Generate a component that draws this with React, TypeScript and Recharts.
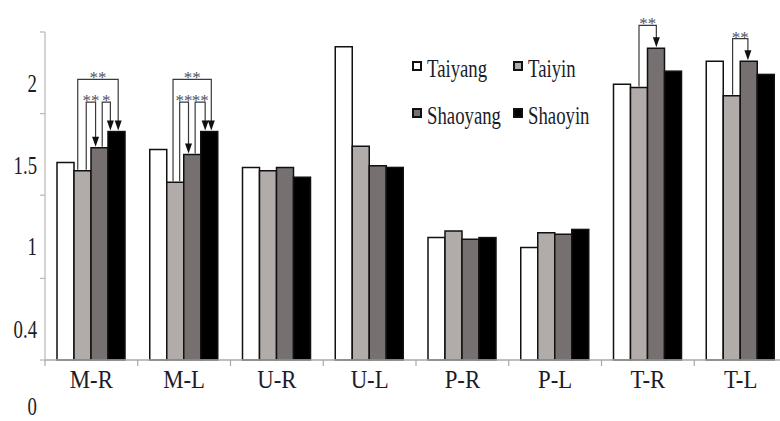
import React from "react";
import { BarChart, Bar, XAxis, YAxis, Legend } from "recharts";

const categories = ["M-R", "M-L", "U-R", "U-L", "P-R", "P-L", "T-R", "T-L"];
const taiyang = [1.53, 1.61, 1.5, 2.24, 1.07, 1.01, 2.01, 2.15];
const taiyin = [1.48, 1.41, 1.48, 1.63, 1.11, 1.1, 1.99, 1.94];
const shaoyang = [1.62, 1.58, 1.5, 1.51, 1.06, 1.09, 2.23, 2.15];
const shaoyin = [1.72, 1.72, 1.44, 1.5, 1.07, 1.12, 2.09, 2.07];

const yTickMarks = [0.32, 0.82, 1.33, 1.83, 2.33];
const yTickLabels = ["0", "0.4", "1", "1.5", "2"];

// significance brackets: from bar -> to bar (series index), leg position inside the bar, level in y units
const brackets = [
  { cat: "M-R", from: 1, to: 3, fromAt: 0.22, toAt: 0.6, level: 2.04, stars: "**" },
  { cat: "M-R", from: 1, to: 2, fromAt: 0.72, toAt: 0.27, level: 1.9, stars: "**" },
  { cat: "M-R", from: 2, to: 3, fromAt: 0.66, toAt: 0.14, level: 1.9, stars: "*" },
  { cat: "M-L", from: 1, to: 3, fromAt: 0.37, toAt: 0.62, level: 2.04, stars: "**" },
  { cat: "M-L", from: 1, to: 2, fromAt: 0.76, toAt: 0.28, level: 1.9, stars: "**" },
  { cat: "M-L", from: 2, to: 3, fromAt: 0.67, toAt: 0.26, level: 1.9, stars: "**" },
  { cat: "T-R", from: 1, to: 2, fromAt: 0.5, toAt: 0.52, level: 2.37, stars: "**" },
  { cat: "T-L", from: 1, to: 2, fromAt: 0.55, toAt: 0.45, level: 2.29, stars: "**" },
];

const Y_MIN = yTickMarks[0];
const Y_MAX = yTickMarks[yTickMarks.length - 1];
const FONT = '"Liberation Serif", "Times New Roman", serif';

const series = [
  { key: "taiyang", name: "Taiyang", fill: "#ffffff", values: taiyang },
  { key: "taiyin", name: "Taiyin", fill: "#b1acaa", values: taiyin },
  { key: "shaoyang", name: "Shaoyang", fill: "#767170", values: shaoyang },
  { key: "shaoyin", name: "Shaoyin", fill: "#000000", values: shaoyin },
];

const data = categories.map((name, i) => ({
  name,
  taiyang: taiyang[i],
  taiyin: taiyin[i],
  shaoyang: shaoyang[i],
  shaoyin: shaoyin[i],
}));

function ShaoyinBar(props: any) {
  const { x, y, width, height, index } = props;
  const base = y + height;
  const ppu = height / (shaoyin[index] - Y_MIN);
  const yOf = (v: number) => base - (v - Y_MIN) * ppu;
  const barX = (k: number) => x - (3 - k) * width;
  const marks = brackets.filter((b) => b.cat === categories[index]);
  return (
    <g>
      <rect x={x} y={y} width={width} height={height} fill="#000" stroke="#111" strokeWidth={1.5} />
      {marks.map((b, i) => {
        const lx = barX(b.from) + b.fromAt * width;
        const rx = barX(b.to) + b.toAt * width;
        const ly = yOf(b.level);
        const fy = yOf(series[b.from].values[index]) - 1;
        const ty = yOf(series[b.to].values[index]) - 1;
        return (
          <g key={i}>
            <path
              d={`M${lx},${fy} V${ly} H${rx} V${ty - 9}`}
              fill="none"
              stroke="#3a3a3a"
              strokeWidth={1.2}
            />
            <path d={`M${rx - 3.5},${ty - 10} L${rx + 3.5},${ty - 10} L${rx},${ty} Z`} fill="#111" />
            <text
              x={(lx + rx) / 2}
              y={ly + 4}
              textAnchor="middle"
              fontSize={17}
              fontFamily={FONT}
              fill="#4f5263"
            >
              {b.stars}
            </text>
          </g>
        );
      })}
    </g>
  );
}

function XTick(props: any) {
  const { x, y, payload, width, visibleTicksCount } = props;
  const half = (width || 742) / (visibleTicksCount || categories.length) / 2;
  return (
    <g>
      <line x1={x - half} x2={x - half} y1={y - 6} y2={y} stroke="#a8a8a8" strokeWidth={1.2} />
      <text
        transform={`translate(${x},${y + 22}) scale(0.95,1.05)`}
        textAnchor="middle"
        fontSize={24}
        fontFamily={FONT}
        fill="#1c1c28"
      >
        {payload.value}
      </text>
    </g>
  );
}

function YTick(props: any) {
  const { x, y, payload } = props;
  const label = yTickLabels[payload.index] ?? "";
  const ty = Math.min(y + 60, 415);
  return (
    <text
      transform={`translate(${x},${ty}) scale(0.75,1.05)`}
      textAnchor="end"
      fontSize={25}
      fontFamily={FONT}
      fill="#1c1c28"
    >
      {label}
    </text>
  );
}

function LegendBox() {
  return (
    <div
      style={{
        display: "grid",
        gridTemplateColumns: "101px 90px",
        gridAutoRows: "47px",
        fontFamily: FONT,
      }}
    >
      {series.map((s) => (
        <div key={s.key} style={{ display: "flex", alignItems: "flex-start" }}>
          <span
            style={{
              display: "inline-block",
              boxSizing: "border-box",
              flexShrink: 0,
              width: 10,
              height: 10,
              marginTop: 5,
              border: "2px solid #111",
              background: s.fill,
            }}
          />
          <span
            style={{
              display: "inline-block",
              marginLeft: 5,
              fontSize: 25,
              lineHeight: "25px",
              color: "#1c1c28",
              transform: "scaleX(0.75)",
              transformOrigin: "left center",
              whiteSpace: "nowrap",
            }}
          >
            {s.name}
          </span>
        </div>
      ))}
    </div>
  );
}

export default function App() {
  return (
    <div
      style={{
        position: "absolute",
        left: 0,
        top: 0,
        width: 780,
        height: 421,
        overflow: "hidden",
        background: "#fff",
      }}
    >
      <BarChart
        width={800}
        height={421}
        data={data}
        margin={{ top: 32, right: 13, bottom: 31, left: 0 }}
        barCategoryGap={12}
        barGap={0}
      >
        <XAxis
          dataKey="name"
          interval={0}
          height={30}
          tickLine={false}
          tickSize={6}
          tickMargin={0}
          axisLine={{ stroke: "#a8a8a8", strokeWidth: 1.5 }}
          tick={<XTick />}
        />
        <YAxis
          type="number"
          domain={[Y_MIN, Y_MAX]}
          ticks={yTickMarks}
          interval={0}
          width={45}
          tickSize={5}
          tickMargin={3}
          axisLine={{ stroke: "#b8b8b8", strokeWidth: 1.2 }}
          tickLine={{ stroke: "#b8b8b8", strokeWidth: 1.2 }}
          tick={<YTick />}
        />
        <Legend
          layout="vertical"
          align="center"
          verticalAlign="middle"
          wrapperStyle={{ position: "absolute", left: 412, top: 56, width: 200 }}
          content={() => <LegendBox />}
        />
        {series.map((s) => (
          <Bar
            key={s.key}
            dataKey={s.key}
            name={s.name}
            fill={s.fill}
            stroke="#111"
            strokeWidth={1.5}
            isAnimationActive={false}
            shape={s.key === "shaoyin" ? <ShaoyinBar /> : undefined}
          />
        ))}
      </BarChart>
    </div>
  );
}
